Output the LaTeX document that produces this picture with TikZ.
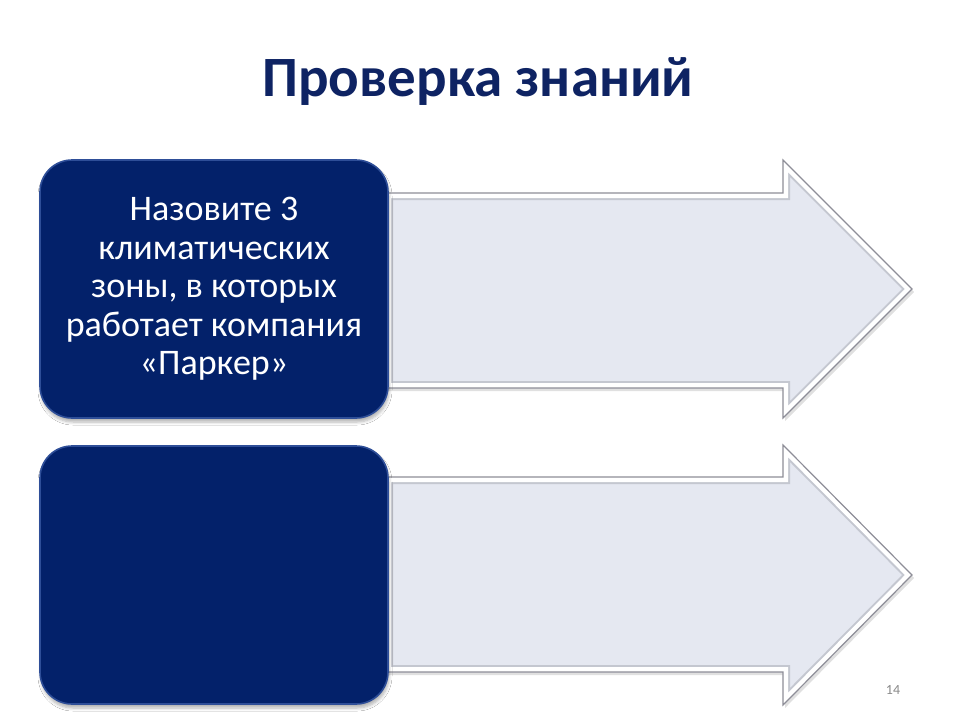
\documentclass[tikz,border=0pt]{standalone}
\usepackage{fontspec}
\setmainfont{Carlito}
\usetikzlibrary{shadows.blur}
\definecolor{navy}{HTML}{03216A}
\definecolor{navyedge}{HTML}{2E4E98}
\definecolor{titleblue}{HTML}{0E2363}
\definecolor{arrowfill}{HTML}{E5E8F1}
\definecolor{arrowedge}{HTML}{8E8E98}
\definecolor{bevelgray}{HTML}{C4C7D0}
\definecolor{pagegray}{HTML}{8A8A8A}
\tikzset{
  qbox/.style={rectangle, rounded corners=32pt, fill=navy, draw=navyedge, line width=1.6pt,
    minimum width=348pt, minimum height=258pt, text=white, align=center,
    font=\fontsize{36}{38.5}\selectfont,
    blur shadow={shadow xshift=1pt, shadow yshift=-4pt, shadow blur steps=6, shadow blur radius=3pt, shadow opacity=30}},
  titletext/.style={font=\fontsize{57}{64}\selectfont\bfseries, anchor=base},
  pagenum/.style={font=\fontsize{14}{16}\selectfont, text=pagegray},
}
\newcommand{\arrowone}{(386,193) -- (783,193) -- (783,160) -- (912,289) -- (783,418) -- (783,388) -- (386,388) -- cycle}
\newcommand{\arrowtwo}{(386,477) -- (783,477) -- (783,445) -- (912,575) -- (783,705) -- (783,672) -- (386,672) -- cycle}
\begin{document}
\begin{tikzpicture}[x=1pt,y=-1pt]
\useasboundingbox[fill=white] (0,0) rectangle (960,720);
% title
\node[titletext, text=titleblue] (title) at (478,96) {Проверка знаний};
% arrows
\foreach \p in {1,2}{
  \ifnum\p=1 \def\ap{\arrowone}\else\def\ap{\arrowtwo}\fi
  \fill[black, opacity=0.12, xshift=2pt, yshift=-3pt] \ap;
  \fill[arrowfill] \ap;
  \begin{scope}
    \clip \ap;
    \draw[bevelgray, line width=14pt, line join=miter] \ap;
    \draw[white, line width=10pt, line join=miter] \ap;
  \end{scope}
  \draw[arrowedge, line width=1.2pt, line join=miter] \ap;
}
% boxes
\node[qbox] (q1) at (214,289) {Назовите 3\\климатических\\зоны, в которых\\работает компания\\«Паркер»};
\node[qbox] (q2) at (214,575) {};
% page number
\node[pagenum] (pn) at (893,690) {14};
\end{tikzpicture}
\end{document}
